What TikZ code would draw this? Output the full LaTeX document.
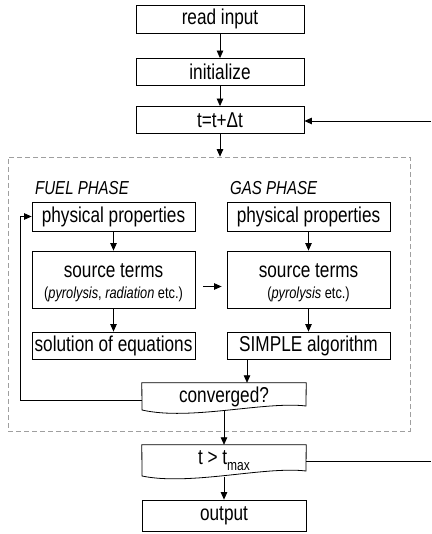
\documentclass[tikz,border=0pt]{standalone}
\usepackage{fontspec}
\setmainfont{Liberation Sans}[FakeStretch=0.8]
\usetikzlibrary{arrows.meta,calc}
\begin{document}
\begin{tikzpicture}[x=1pt,y=-1pt,
  box/.style={draw, line width=0.8pt, inner sep=0pt, font=\fontsize{21.5}{23}\selectfont},
  topbox/.style={box, minimum width=168pt, minimum height=28pt},
  botbox/.style={box, minimum width=164pt},
  colbox/.style={box, minimum width=163pt},
  plain/.style={inner sep=0pt, font=\fontsize{21.5}{23}\selectfont},
  arr/.style={-{Triangle[length=7.5pt,width=6.5pt]}, line width=0.8pt},
  lbl/.style={inner sep=0pt, font=\fontsize{18.8}{20}\selectfont\itshape, anchor=base west},
  sub/.style={inner sep=0pt, font=\fontsize{16}{17}\selectfont},
  frame/.style={draw=gray!75, dash pattern=on 5pt off 3pt, line width=0.6pt, inner sep=0pt},
  outline/.style={line width=0.8pt},
]
\useasboundingbox (0,0) rectangle (431,534);

% top
\node[topbox] (read) at (220,19) {read input};
\node[topbox, minimum height=27pt] (init) at (220,72) {initialize};
\node[topbox, minimum height=27pt] (tstep) at (220,120) {t=t+Δt};

% dashed frame
\node[frame, minimum width=402pt, minimum height=274pt] (solver) at (209,294) {};

\node[lbl] (fuel) at (35,195) {FUEL PHASE};
\node[lbl] (gas) at (230,195) {GAS PHASE};

% left column
\node[colbox, minimum height=29pt] (ppL) at (113.5,216.5) {physical properties};
\node[colbox, minimum height=57pt] (stL) at (113.5,279.5) {};
\node[plain] (stLa) at (113.5,271) {source terms};
\node[sub] (stLb) at (113.5,294) {(\textit{pyrolysis}, \textit{radiation} etc.)};
\node[colbox, minimum height=27pt] (solL) at (113.5,345.5) {solution of equations};

% right column
\node[colbox, minimum height=29pt] (ppR) at (308.5,216.5) {physical properties};
\node[colbox, minimum height=57pt] (stR) at (308.5,279.5) {};
\node[plain] (stRa) at (308.5,271) {source terms};
\node[sub] (stRb) at (308.5,294) {(\textit{pyrolysis} etc.)};
\node[colbox, minimum height=27pt] (simR) at (308.5,345.5) {SIMPLE algorithm};

% converged
\node[plain, minimum width=164pt, minimum height=28pt] (conv) at (224,397) {converged?};
\draw[outline] (conv.north west) -- (conv.north east) -- (306,406)
  .. controls (265,401) and (190,421) .. (142,410) -- cycle;

% t > tmax
\node[plain, minimum width=164pt, minimum height=32pt] (tm) at (224,461)
  {t > t\raisebox{-6pt}{\fontsize{15}{15}\selectfont max}};
\draw[outline] (tm.north west) -- (tm.north east) -- (306,471)
  .. controls (265,466) and (190,486) .. (142,476) -- cycle;

% output
\node[botbox, minimum height=31pt] (out) at (224,515.5) {output};

% connectors
\draw[arr] (read) -- (init);
\draw[arr] (init) -- (tstep);
\draw[arr] (tstep.south) -- (tstep.south |- solver.north);
\draw[arr] (ppL) -- (stL);
\draw[arr] (stL) -- (solL);
\draw[arr] (ppR) -- (stR);
\draw[arr] (stR) -- (simR);
\draw[arr, shorten <=8pt, shorten >=5pt] ([yshift=-7pt]stL.east) -- ([yshift=-7pt]stR.west);
\draw[arr] ([xshift=-61.5pt]simR.south) -- ([xshift=-61.5pt]simR.south |- conv.north);
\draw[arr] ([yshift=-3pt]conv.west) -- ++(-121,0) |- (ppL.west);
\draw[arr] (conv.south) -- (tm.north);
\draw[arr] (tm.south) -- (out.north);

\coordinate (r1) at (431,121);
\coordinate (r2) at (431,462);
\draw[arr] (r1) -- (r1 -| tstep.east);
\draw[outline] (tm.east) -- (tm.east -| r2);
\end{tikzpicture}
\end{document}
